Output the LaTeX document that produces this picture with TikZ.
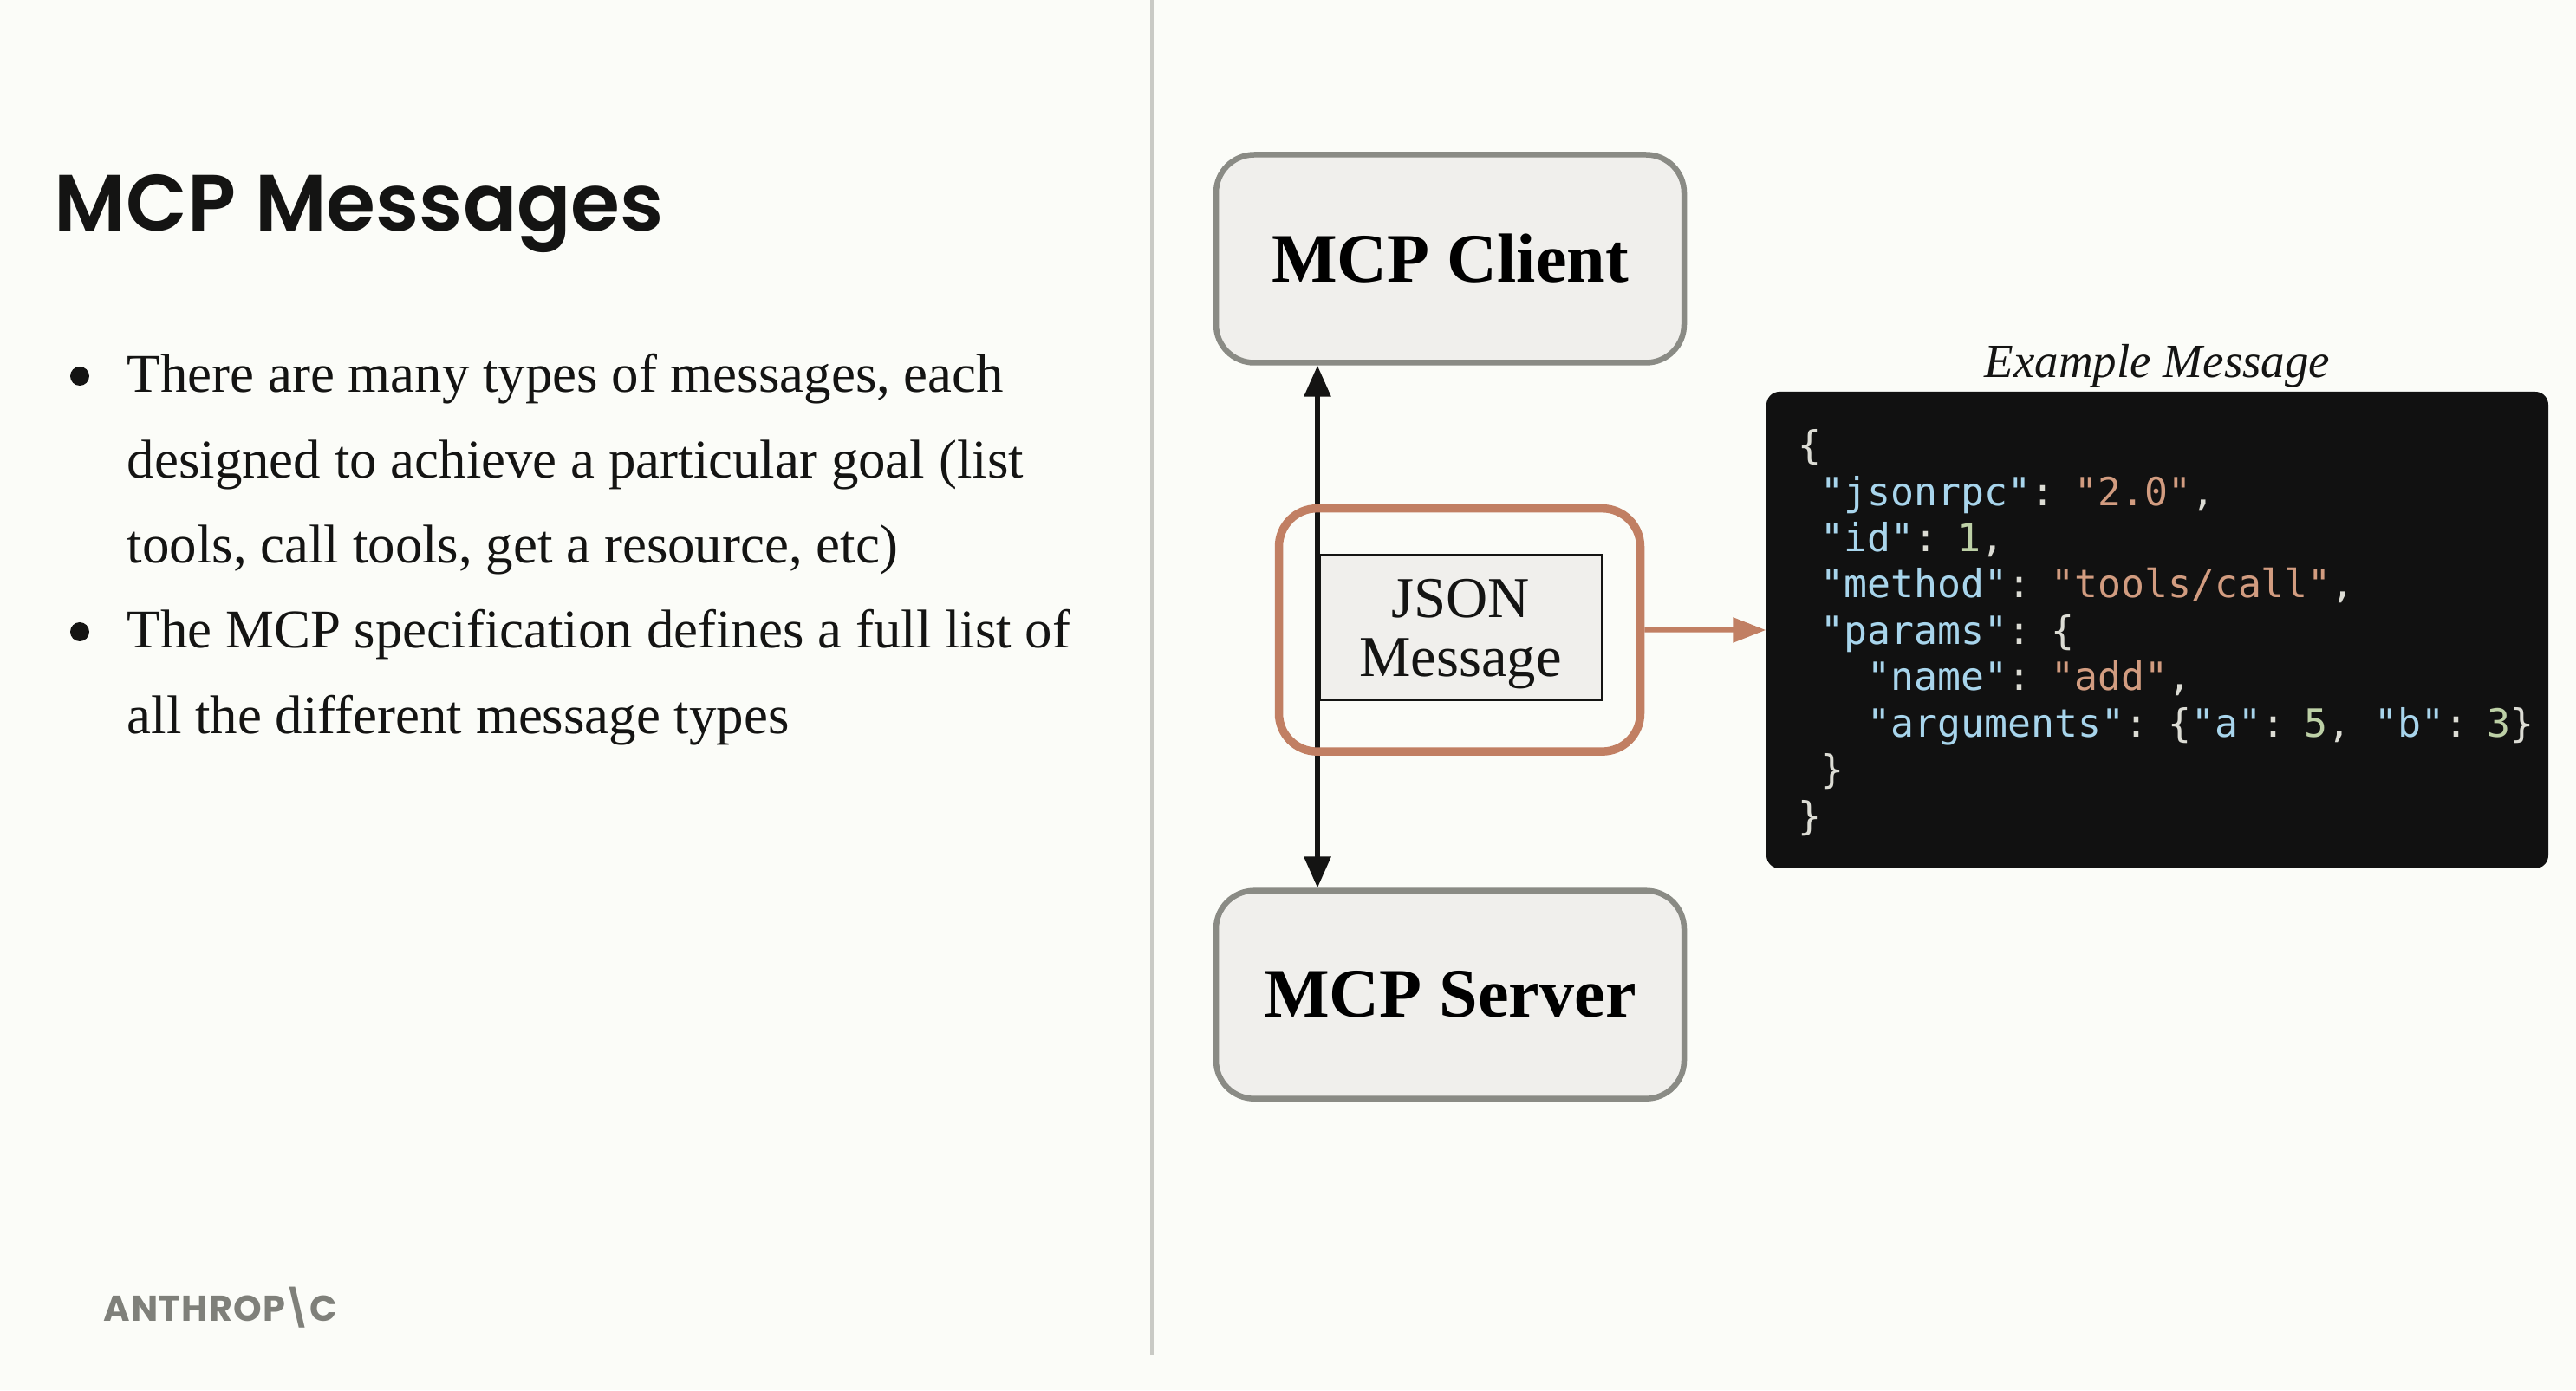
\documentclass[tikz,border=0pt]{standalone}
\usepackage{fontspec}
\setmainfont{Liberation Serif}
\setmonofont{DejaVu Sans Mono}
\newfontfamily\titlefont{Poppins SemiBold}
\newfontfamily\logofont[LetterSpace=3]{Poppins}
\usetikzlibrary{arrows.meta}

\definecolor{paperbg}{HTML}{FBFCF8}
\definecolor{boxfill}{HTML}{F0EFEC}
\definecolor{boxline}{HTML}{8A8B85}
\definecolor{rustline}{HTML}{C17F63}
\definecolor{inkdark}{HTML}{141413}
\definecolor{codebg}{HTML}{111111}
\definecolor{codekey}{HTML}{A8D5EC}
\definecolor{codestr}{HTML}{D29C80}
\definecolor{codenum}{HTML}{BDD0A6}
\definecolor{codepunct}{HTML}{DCDCD4}
\definecolor{logogray}{HTML}{7F807A}
\definecolor{divgray}{HTML}{C9CAC5}

\newcommand{\ckey}[1]{\textcolor{codekey}{#1}}
\newcommand{\cstr}[1]{\textcolor{codestr}{#1}}
\newcommand{\cnum}[1]{\textcolor{codenum}{#1}}

\tikzset{
    peer/.style={draw=boxline, fill=boxfill, line width=0.065cm, rounded corners=0.44cm,
        minimum width=5.40cm, minimum height=2.40cm, inner sep=0pt,
        font=\bfseries\fontsize{22.8}{27}\selectfont},
    bodytext/.style={anchor=north west, inner sep=0pt, align=left, text=inkdark,
        font=\fontsize{17.9}{28}\selectfont},
    bulletdot/.style={circle, fill=inkdark, minimum size=0.22cm, inner sep=0pt},
    flowtip/.style={{Triangle[length=0.36cm,width=0.30cm]}-{Triangle[length=0.36cm,width=0.30cm]}, line width=0.06cm, draw=inkdark},
    rustflow/.style={-{Triangle[length=0.38cm,width=0.28cm]}, line width=0.055cm, draw=rustline},
}

\begin{document}
\begin{tikzpicture}
    \useasboundingbox (0,0) rectangle (29.72,16.04);
    \fill[paperbg] (0,0) rectangle (29.72,16.04);

    % left column
    \coordinate (divtop) at (13.29,16.04);
    \coordinate (divbot) at (13.29,0.40);
    \draw[divgray, line width=0.04cm] (divtop) -- (divbot);
    \node[anchor=base west, inner sep=0pt, text=inkdark, font=\titlefont\fontsize{26.2}{32}\selectfont] (title) at (0.62,13.37) {MCP Messages};

    \node[bulletdot] (dotone) at (0.92,11.70) {};
    \node[bodytext] (bulletone) at (1.46,11.96) {There are many types of messages, each\\designed to achieve a particular goal (list\\tools, call tools, get a resource, etc)};
    \node[bulletdot] (dottwo) at (0.92,8.75) {};
    \node[bodytext] (bullettwo) at (1.46,9.01) {The MCP specification defines a full list of\\all the different message types};

    \node[anchor=base west, inner sep=0pt, text=logogray, font=\logofont\bfseries\fontsize{11.8}{14}\selectfont] (logo) at (1.19,0.80) {ANTHROP\kern-0.06em\textbackslash\kern-0.06em C};

    % diagram
    \node[peer] (client) at (16.73,13.055) {MCP Client};
    \node[peer] (server) at (16.73,4.563) {MCP Server};
    \coordinate (stem) at (15.20,8.80);
    \draw[flowtip] (client.south -| stem) -- (server.north -| stem);
    \node[draw=rustline, line width=0.095cm, rounded corners=0.44cm, minimum width=4.17cm, minimum height=2.805cm] (frame) at (16.84,8.771) {};
    \node[draw=inkdark, fill=boxfill, line width=0.03cm, minimum width=3.26cm, minimum height=1.668cm, inner sep=0pt, align=center, text=inkdark, font=\fontsize{19}{19.4}\selectfont] (json) at (16.85,8.80) {\rule{0pt}{17pt}JSON\\Message};

    \node[fill=codebg, rounded corners=0.15cm, minimum width=9.02cm, minimum height=5.50cm] (code) at (24.89,8.77) {};
    \node[anchor=west, inner sep=0pt, text width=8.66cm, align=left, text=codepunct, font=\ttfamily\fontsize{12.75}{15.2}\selectfont] (codetext) at ([xshift=0.36cm,yshift=-0.03cm]code.west) {%
        \spaceskip=0.602em\relax\{\\
        \ \ckey{"jsonrpc"}: \cstr{"2.0"},\\
        \ \ckey{"id"}: \cnum{1},\\
        \ \ckey{"method"}: \cstr{"tools/call"},\\
        \ \ckey{"params"}: \{\\
        \ \ \ \ckey{"name"}: \cstr{"add"},\\
        \ \ \ \ckey{"arguments"}: \{\ckey{"a"}: \cnum{5}, \ckey{"b"}: \cnum{3}\}\\
        \ \}\\
        \}};
    \node[anchor=base, inner sep=0pt, text=inkdark, font=\itshape\fontsize{15.65}{19}\selectfont] (examplelabel) at (code.north |- 0,11.68) {Example Message};
    \draw[rustflow] (frame.east) -- (code.west);
\end{tikzpicture}
\end{document}
